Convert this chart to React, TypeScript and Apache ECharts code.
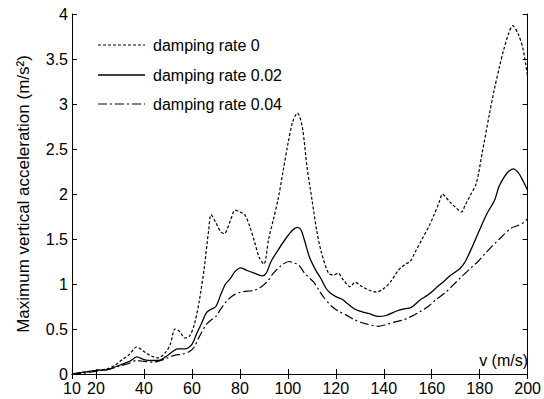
import React, { useEffect, useRef } from "react";
import * as echarts from "echarts";

const xTicks = [10, 20, 40, 60, 80, 100, 120, 140, 160, 180, 200];

const names = ["damping rate 0", "damping rate 0.02", "damping rate 0.04"];

const speed0 = [10, 15, 20, 25, 28, 31, 34, 37, 40, 43, 46, 49, 51, 53, 55, 57, 59, 61, 63, 65, 67, 68, 70, 72, 73.5, 76, 78, 80, 82, 84, 86, 88, 90, 92, 94, 96, 98, 100, 102, 104, 106, 108, 110, 112, 114, 117, 119, 121, 123, 126, 128, 131, 134, 137, 140, 143, 146, 149, 151, 153, 156, 159, 161, 163, 164.5, 166, 168, 170, 172.4, 174, 176, 178.6, 181, 184, 186, 188.3, 190, 192, 193.8, 196, 198, 200];
const accel0 = [0, 0.02, 0.04, 0.06, 0.1, 0.16, 0.22, 0.3, 0.25, 0.2, 0.18, 0.24, 0.33, 0.5, 0.47, 0.4, 0.42, 0.55, 0.8, 1.15, 1.6, 1.77, 1.68, 1.58, 1.56, 1.7, 1.82, 1.8, 1.77, 1.65, 1.48, 1.3, 1.22, 1.5, 1.72, 1.95, 2.25, 2.55, 2.8, 2.9, 2.75, 2.3, 1.95, 1.6, 1.35, 1.12, 1.1, 1.12, 1.05, 0.97, 1.02, 0.97, 0.93, 0.91, 0.95, 1.03, 1.15, 1.22, 1.25, 1.35, 1.5, 1.65, 1.77, 1.9, 2.0, 1.96, 1.9, 1.85, 1.8, 1.88, 1.98, 2.12, 2.45, 2.88, 3.15, 3.42, 3.6, 3.78, 3.87, 3.78, 3.62, 3.3];

const speed2 = [10, 15, 20, 25, 30, 34, 37, 40, 43, 46, 49, 52, 54, 57, 60, 62, 64, 66, 68, 70, 72, 74, 76, 78, 80.4, 83, 86, 89.4, 91, 93, 96, 99, 102, 103.9, 105.5, 107, 109, 111.5, 114, 116, 117.7, 120, 122.6, 125, 128, 131, 134, 137.8, 141, 145.4, 148, 151.5, 155, 158.5, 162, 165.5, 168, 171.7, 174, 177, 179.3, 183, 186.2, 188, 190, 192, 194, 196, 198, 200];
const accel2 = [0, 0.02, 0.04, 0.05, 0.1, 0.14, 0.19, 0.16, 0.15, 0.15, 0.19, 0.25, 0.28, 0.28, 0.33, 0.45, 0.56, 0.68, 0.72, 0.75, 0.88, 1.0, 1.06, 1.14, 1.18, 1.15, 1.12, 1.09, 1.12, 1.25, 1.38, 1.5, 1.6, 1.63, 1.6, 1.48, 1.3, 1.16, 1.05, 0.95, 0.9, 0.86, 0.83, 0.78, 0.72, 0.69, 0.67, 0.64, 0.65, 0.7, 0.72, 0.74, 0.82, 0.88, 0.96, 1.04, 1.1, 1.17, 1.25, 1.42, 1.56, 1.78, 1.93, 2.08, 2.18, 2.25, 2.28, 2.24, 2.15, 2.04];

const speed4 = [10, 15, 20, 25, 30, 34, 37, 40, 44, 47, 50, 53, 56, 59, 61, 63, 66, 68, 70, 72, 74.2, 77, 80.4, 83, 86, 89, 91.5, 94, 97, 100.5, 103, 104.6, 107, 110.8, 113, 115, 118.4, 121, 124, 128, 132.3, 137.8, 141, 144.7, 148, 151.5, 155, 158.5, 162, 165.5, 169, 172.4, 176, 179.3, 182, 185.5, 189, 193, 196, 198.7, 200];
const accel4 = [0, 0.01, 0.03, 0.05, 0.09, 0.12, 0.15, 0.14, 0.13, 0.15, 0.18, 0.21, 0.22, 0.25, 0.3, 0.41, 0.55, 0.6, 0.64, 0.72, 0.8, 0.87, 0.91, 0.92, 0.93, 0.97, 1.03, 1.12, 1.2, 1.25, 1.23, 1.21, 1.12, 1.02, 0.93, 0.85, 0.75, 0.7, 0.66, 0.6, 0.56, 0.53, 0.55, 0.58, 0.6, 0.64, 0.69, 0.75, 0.83, 0.9, 0.99, 1.08, 1.17, 1.25, 1.33, 1.43, 1.52, 1.62, 1.65, 1.69, 1.73];

const FONT = "'Liberation Sans', Arial, sans-serif";
const DASHES: any[] = [[3, 2], null, [9, 3, 2, 3]];
const WIDTHS = [1.2, 1.3, 1.2];

function pairs(xs: number[], ys: number[]) {
  return xs.map((x, i) => [x, ys[i]]);
}

export default function App() {
  const ref = useRef<HTMLDivElement>(null);
  useEffect(() => {
    if (!ref.current) return;
    const chart = echarts.init(ref.current, undefined, { renderer: "svg" });
    const axisLine = { show: true, lineStyle: { color: "#000", width: 1 } };
    const tickStyle = { show: true, inside: true, length: 5, lineStyle: { color: "#000" } };
    const legendRows = [45, 75, 104];
    const legendGraphics: any[] = [];
    names.forEach((n, i) => {
      legendGraphics.push({
        type: "line",
        shape: { x1: 98, y1: legendRows[i], x2: 145, y2: legendRows[i] },
        style: { stroke: "#000", lineWidth: WIDTHS[i], lineDash: DASHES[i] || undefined },
      });
      legendGraphics.push({
        type: "text",
        x: 153,
        y: legendRows[i],
        style: { text: n, fill: "#000", font: `16px ${FONT}`, verticalAlign: "middle" },
      });
    });
    chart.setOption({
      animation: false,
      backgroundColor: "#fff",
      grid: { left: 72, top: 14, right: 14, bottom: 25, containLabel: false },
      xAxis: [
        {
          type: "value",
          min: 10,
          max: 200,
          position: "bottom",
          axisLine,
          axisTick: { ...tickStyle, customValues: xTicks },
          axisLabel: { customValues: xTicks, color: "#000", fontFamily: FONT, fontSize: 16, margin: 6 },
          splitLine: { show: false },
        },
        {
          type: "value",
          min: 10,
          max: 200,
          position: "top",
          axisLine,
          axisTick: { ...tickStyle, customValues: xTicks },
          axisLabel: { show: false },
          splitLine: { show: false },
        },
      ],
      yAxis: [
        {
          type: "value",
          min: 0,
          max: 4,
          interval: 0.5,
          position: "left",
          axisLine,
          axisTick: tickStyle,
          axisLabel: { color: "#000", fontFamily: FONT, fontSize: 16, margin: 4 },
          splitLine: { show: false },
          name: "Maximum vertical acceleration (m/s²)",
          nameLocation: "middle",
          nameGap: 40,
          nameTextStyle: { color: "#000", fontFamily: FONT, fontSize: 17 },
        },
        {
          type: "value",
          min: 0,
          max: 4,
          interval: 0.5,
          position: "right",
          axisLine,
          axisTick: tickStyle,
          axisLabel: { show: false },
          splitLine: { show: false },
        },
      ],
      graphic: [
        ...legendGraphics,
        {
          type: "text",
          right: 16,
          top: 352,
          style: { text: "v (m/s)", fill: "#000", font: `16px ${FONT}` },
        },
      ],
      series: [
        {
          name: names[0],
          type: "line",
          symbol: "none",
          smooth: 0.3,
          data: pairs(speed0, accel0),
          lineStyle: { color: "#000", width: WIDTHS[0], type: DASHES[0] },
        },
        {
          name: names[1],
          type: "line",
          symbol: "none",
          smooth: 0.3,
          data: pairs(speed2, accel2),
          lineStyle: { color: "#000", width: WIDTHS[1], type: "solid" },
        },
        {
          name: names[2],
          type: "line",
          symbol: "none",
          smooth: 0.3,
          data: pairs(speed4, accel4),
          lineStyle: { color: "#000", width: WIDTHS[2], type: DASHES[2] },
        },
      ],
    });
    return () => chart.dispose();
  }, []);
  return (
    <div
      ref={ref}
      style={{ position: "fixed", left: 0, top: 0, width: 544, height: 399, background: "#fff" }}
    />
  );
}
